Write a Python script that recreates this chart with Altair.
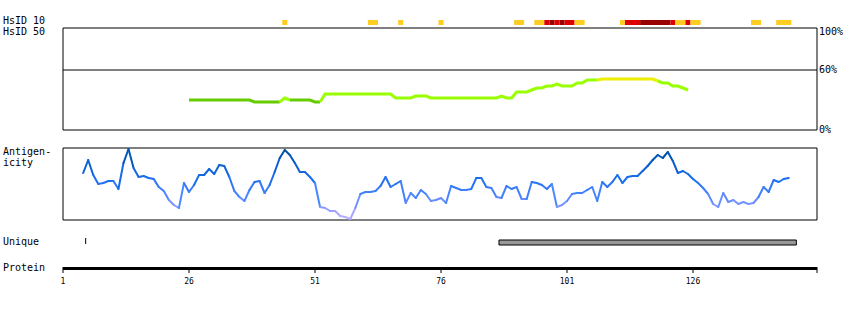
import altair as alt
import pandas as pd

# ---------------- data ----------------
PROTEIN_END = 150.6
axis_ticks = [1, 26, 51, 76, 101, 126]

# HsID 10 identity blocks (residue ranges) and level
block_start = [45, 62, 68, 76, 91, 95, 97, 98, 99, 100, 101, 103, 112, 113, 116, 122, 123, 125, 126, 138, 143]
block_end = [45, 63, 68, 76, 92, 96, 97, 98, 99, 100, 102, 104, 112, 115, 121, 122, 124, 125, 127, 139, 145]
block_level = ["low", "low", "low", "low", "low", "low", "mid", "high", "mid", "high", "mid", "low",
               "low", "mid", "high", "mid", "low", "mid", "low", "low", "low"]

# HsID 50 percent identity, residues 26..125
hsid_first = 26
hsid_pct = [30, 30, 30, 30, 30, 30, 30, 30, 30, 30, 30, 30, 30,
            28, 28, 28, 28, 28, 28,
            32,
            30, 30, 30, 30, 30,
            28, 28,
            36, 36, 36, 36, 36, 36, 36, 36, 36, 36, 36, 36, 36, 36,
            32, 32, 32, 32,
            34, 34, 34,
            32, 32, 32, 32, 32, 32, 32, 32, 32, 32, 32, 32, 32, 32,
            34,
            32, 32,
            38, 38, 38,
            40,
            42, 42,
            44, 44,
            46,
            44, 44, 44,
            47, 47,
            50, 50, 50,
            51, 51, 51, 51, 51, 51, 51, 51, 51, 51, 51,
            49,
            47, 47,
            44, 44,
            42,
            40]

# Antigenicity score, residues 5..145
antigen_first = 5
antigen_score = [47, 60, 45, 36, 37, 39, 39, 31, 57, 71, 52, 43, 44, 42, 41, 33, 29, 20, 15, 12,
                 37, 28, 35, 45, 45, 51, 46, 55, 54, 43, 29, 23, 19, 30, 38, 39, 27, 35, 48, 62,
                 70, 65, 57, 48, 48, 43, 37, 13, 12, 9, 9, 4, 3, 1, 12, 26, 28, 28, 29, 34,
                 43, 33, 36, 39, 17, 27, 22, 30, 26, 19, 20, 22, 17, 34, 32, 30, 30, 31, 42, 42,
                 33, 32, 23, 22, 34, 31, 33, 21, 21, 38, 37, 35, 31, 36, 13, 15, 19, 26, 27, 27,
                 30, 33, 19, 38, 33, 38, 45, 37, 43, 44, 44, 49, 54, 60, 65, 62, 68, 59, 47, 49,
                 46, 41, 37, 32, 26, 16, 13, 27, 18, 20, 16, 18, 16, 17, 23, 33, 28, 40, 38, 41,
                 42]

# Unique regions
unique_start = [88]
unique_end = [146]
unique_marks = [5.5]

# ---------------- helpers ----------------
FONT = "DejaVu Sans Mono"


def segments(first, vals):
    rows = []
    for i in range(len(vals) - 1):
        rows.append(dict(p=first + i, p2=first + i + 1, v=vals[i], v2=vals[i + 1],
                         vmax=max(vals[i], vals[i + 1]), vmean=(vals[i] + vals[i + 1]) / 2))
    return pd.DataFrame(rows)


def hsid_class(v):
    if v >= 51:
        return "high"
    if v >= 31:
        return "mid"
    return "low"


def hsid_runs(first, vals):
    # group consecutive segments of the same colour class into one path
    rows = []
    run = 0
    prev = None
    for i in range(len(vals) - 1):
        cls = hsid_class(max(vals[i], vals[i + 1]))
        if cls != prev:
            run += 1
            prev = cls
            rows.append(dict(run=run, cls=cls, p=first + i, v=vals[i]))
        rows.append(dict(run=run, cls=cls, p=first + i + 1, v=vals[i + 1]))
    df = pd.DataFrame(rows)
    df["order"] = range(len(df))
    return df


X = alt.Scale(domain=[1, PROTEIN_END], range=[63, 817], nice=False, zero=False)
Y_H = alt.Scale(domain=[0, 102], range=[130, 28], nice=False, zero=False)
Y_A = alt.Scale(domain=[0, 72], range=[220, 148], nice=False, zero=False)


def label(text, x, y, align="left", size=10):
    return alt.Chart(pd.DataFrame({"t": [text]})).mark_text(
        font=FONT, fontSize=size, align=align, baseline="middle", color="black"
    ).encode(text="t:N", x=alt.value(x), y=alt.value(y))


frame_df = pd.DataFrame({"a": [1], "b": [PROTEIN_END]})

# ---------------- layers ----------------
blocks = alt.Chart(pd.DataFrame({"s": block_start, "e": block_end, "lvl": block_level})).transform_calculate(
    x0="datum.s - 0.5", x1="datum.e + 0.5"
).mark_rect().encode(
    x=alt.X("x0:Q", scale=X, axis=None), x2="x1:Q",
    y=alt.value(20), y2=alt.value(25),
    color=alt.Color("lvl:N", scale=alt.Scale(domain=["low", "mid", "high"],
                                             range=["#ffcc22", "#dd0000", "#990000"]), legend=None),
)

hsid_box = alt.Chart(frame_df.assign(lo=0, hi=102)).mark_rect(
    fillOpacity=0, stroke="black", strokeWidth=1
).encode(
    x=alt.X("a:Q", scale=X, axis=None), x2="b:Q",
    y=alt.Y("lo:Q", scale=Y_H, axis=None), y2="hi:Q",
)
hsid_60 = alt.Chart(frame_df.assign(level=60)).mark_rule(color="black", strokeWidth=1).encode(
    x=alt.X("a:Q", scale=X, axis=None), x2="b:Q",
    y=alt.Y("level:Q", scale=Y_H, axis=None),
)
hsid_line = alt.Chart(hsid_runs(hsid_first, hsid_pct)).mark_line(
    strokeWidth=3, strokeJoin="miter", strokeCap="butt"
).encode(
    x=alt.X("p:Q", scale=X, axis=None),
    y=alt.Y("v:Q", scale=Y_H, axis=None),
    detail="run:N",
    order="order:Q",
    color=alt.Color("cls:N", scale=alt.Scale(domain=["low", "mid", "high"],
                                             range=["#66cc00", "#99ff00", "#eeee00"]), legend=None),
)

ant_box = alt.Chart(frame_df.assign(lo=0, hi=72)).mark_rect(
    fillOpacity=0, stroke="black", strokeWidth=1
).encode(
    x=alt.X("a:Q", scale=X, axis=None), x2="b:Q",
    y=alt.Y("lo:Q", scale=Y_A, axis=None), y2="hi:Q",
)
ant_line = alt.Chart(segments(antigen_first, antigen_score)).mark_rule(strokeWidth=2, strokeCap="round").encode(
    x=alt.X("p:Q", scale=X, axis=None), x2="p2:Q",
    y=alt.Y("v:Q", scale=Y_A, axis=None), y2="v2:Q",
    color=alt.Color("vmean:Q", scale=alt.Scale(domain=[0, 12, 25, 40, 55, 72],
                                               range=["#c4b4ff", "#8c9cff", "#4a86ff", "#1a6ff0", "#0d5fd0", "#004c99"]),
                    legend=None),
)

uniq_bar = alt.Chart(pd.DataFrame({"s": unique_start, "e": unique_end})).transform_calculate(
    x0="datum.s - 0.5", x1="datum.e + 0.5"
).mark_rect(fill="#999999", stroke="black", strokeWidth=1).encode(
    x=alt.X("x0:Q", scale=X, axis=None), x2="x1:Q",
    y=alt.value(240), y2=alt.value(245),
)
uniq_mark = alt.Chart(pd.DataFrame({"m": unique_marks})).mark_rule(color="black", strokeWidth=1).encode(
    x=alt.X("m:Q", scale=X, axis=None), y=alt.value(238), y2=alt.value(244),
)

prot_line = alt.Chart(frame_df).mark_rule(color="black", strokeWidth=3).encode(
    x=alt.X("a:Q", scale=X, axis=None), x2="b:Q", y=alt.value(268.5),
)
prot_ticks = alt.Chart(pd.DataFrame({"t": axis_ticks + [PROTEIN_END]})).mark_rule(color="black", strokeWidth=1).encode(
    x=alt.X("t:Q", scale=X, axis=None), y=alt.value(267), y2=alt.value(273),
)
prot_labels = alt.Chart(pd.DataFrame({"t": axis_ticks})).mark_text(
    font=FONT, fontSize=8, align="center", baseline="middle", color="black"
).encode(
    x=alt.X("t:Q", scale=X, axis=None), text="t:Q", y=alt.value(282),
)

texts = [
    label("HsID 10", 3, 21),
    label("HsID 50", 3, 32),
    label("Antigen-", 3, 152),
    label("icity", 3, 163),
    label("Unique", 3, 242),
    label("Protein", 3, 268),
    label("100%", 819, 32),
    label("60%", 819, 70),
    label("0%", 819, 130),
]

chart = alt.layer(
    blocks, hsid_box, hsid_60, hsid_line, ant_box, ant_line,
    uniq_bar, uniq_mark, prot_line, prot_ticks, prot_labels, *texts
).resolve_scale(
    y="independent", color="independent"
).properties(
    width=850, height=310, autosize="none", padding=0, background="white"
).configure_view(strokeWidth=0)

chart.save("out.html", embed_options={"renderer": "svg", "actions": False})
